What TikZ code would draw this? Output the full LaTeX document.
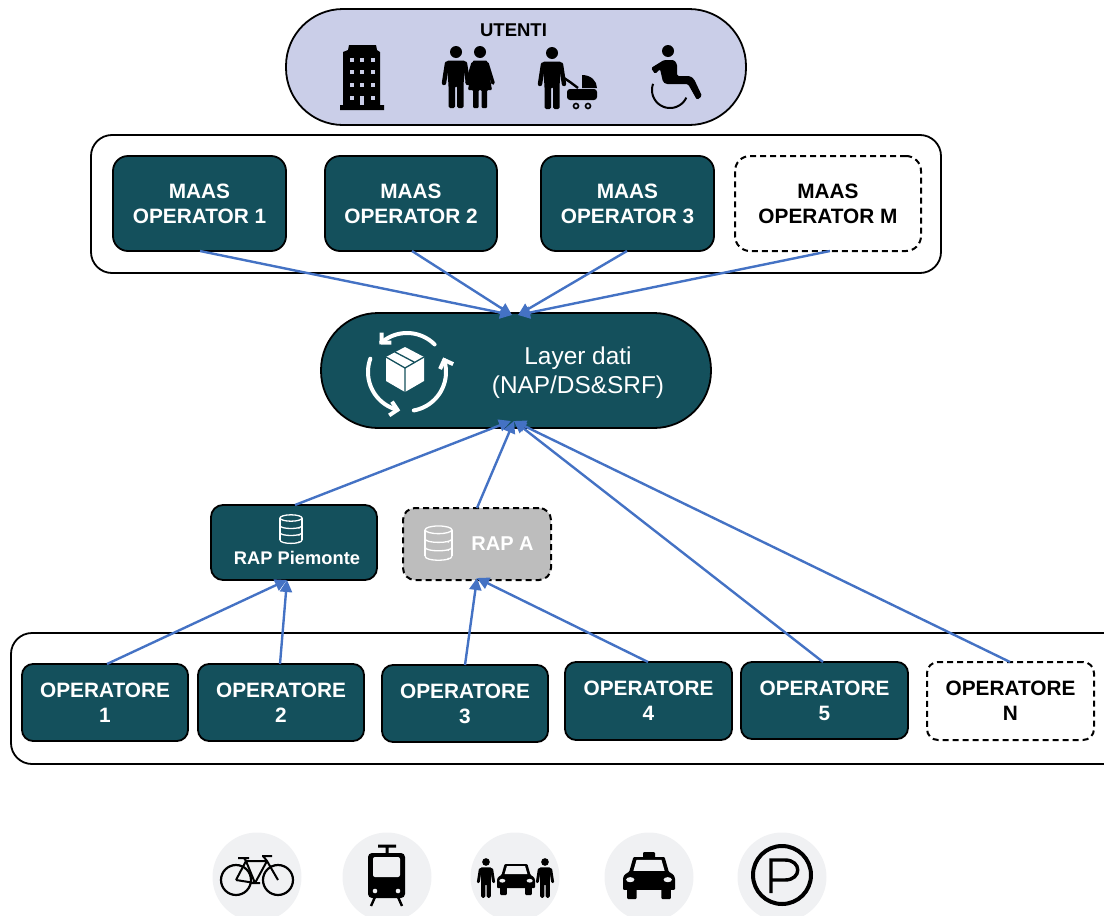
\documentclass[tikz,border=0pt]{standalone}
\usepackage{fontspec}
\setmainfont{Liberation Sans}
\usetikzlibrary{arrows.meta}
\definecolor{teal}{HTML}{14505C}
\definecolor{lav}{HTML}{CACEE8}
\definecolor{flow}{HTML}{4472C4}
\definecolor{disc}{HTML}{F0F1F3}
\definecolor{rapgrey}{HTML}{BDBDBD}
\tikzset{
  pic box/.style={draw=black,line width=1.8pt,inner sep=0pt,outer sep=0pt,align=center},
  tealbox/.style={pic box,fill=teal,text=white,rounded corners=15pt,font=\bfseries\fontsize{20.8}{25}\selectfont},
  dashbox/.style={pic box,fill=white,text=black,dashed,dash pattern=on 6pt off 4pt,line width=2pt,rounded corners=15pt,font=\bfseries\fontsize{20.8}{25}\selectfont},
  frame/.style={pic box,fill=white,rounded corners=21pt},
  flowline/.style={draw=flow,line width=2.4pt,-{Triangle[length=12pt,width=12pt]}},
  ink/.style={fill=black,draw=none},
  discbg/.style={fill=disc,draw=none},
}
\newcommand{\boxat}[7]{%
  \pgfmathsetmacro\bxw{#4-#2}\pgfmathsetmacro\bxh{#5-#3}%
  \pgfmathsetmacro\bxx{(#2+#4)/2}\pgfmathsetmacro\bxy{(#3+#5)/2}%
  \node[#6,minimum width=\bxw pt,minimum height=\bxh pt] (#1) at (\bxx,\bxy) {#7};}
\newcommand{\screenarc}[6]{\draw[#6,samples=40,domain=#4:#5,variable=\t] plot ({#1+#2*cos(\t)},{#3+#2*sin(\t)});}
% person: head at origin, feet at y=56
\newcommand{\manfig}[3]{\begin{scope}[shift={(#1,#2)},scale=#3]
  \fill[ink] (0,0) circle (6);
  \fill[ink,rounded corners=1.5pt] (-9.5,8.5)--(9.5,8.5)--(7.5,33)--(7.5,56)--(1,56)--(1,34)--(-1,34)--(-1,56)--(-7.5,56)--(-7.5,33)--cycle;
  \draw[line width=#3*4.4pt,line cap=round] (-9,11.5)--(-12,31) (9,11.5)--(12,31);
\end{scope}}
\newcommand{\womanfig}[3]{\begin{scope}[shift={(#1,#2)},scale=#3]
  \fill[ink] (0,0) circle (6);
  \fill[ink,rounded corners=1pt] (-7,8.5)--(7,8.5)--(12,38)--(7,38)--(7,56)--(1.5,56)--(1.5,38)--(-1.5,38)--(-1.5,56)--(-7,56)--(-7,38)--(-12,38)--cycle;
  \draw[line width=#3*3.6pt,line cap=round] (-7,11.5)--(-13,31) (7,11.5)--(13,31);
\end{scope}}
% car: x -50..50, y 0..100
\newcommand{\carfig}[4]{\begin{scope}[shift={(#1,#2)},xscale=#3,yscale=#4]
  \fill[ink,rounded corners=1pt] (-30,0)--(30,0)--(38,35)--(47,42)--(50,50)--(50,78)--(-50,78)--(-50,50)--(-47,42)--(-38,35)--cycle;
  \fill[ink,rounded corners=1pt] (-42,75) rectangle (-24,100) (24,75) rectangle (42,100);
  \fill[disc] (-24,7)--(24,7)--(30,33)--(-30,33)--cycle;
  \fill[disc] (-36,54) ellipse (8 and 6) (36,54) ellipse (8 and 6);
\end{scope}}
\newcommand{\dbfig}[5]{\begin{scope}[shift={(#1,#2)},xscale=#3,yscale=#4,draw=#5,line width=1.3pt]
  \draw (0,-11) ellipse (11 and 3.2);
  \draw (-11,-11)--(-11,11) (11,-11)--(11,11);
  \draw (-11,-3.5) .. controls (-11,0.5) and (11,0.5) .. (11,-3.5);
  \draw (-11,3.5) .. controls (-11,7.5) and (11,7.5) .. (11,3.5);
  \draw (-11,11) .. controls (-11,15.5) and (11,15.5) .. (11,11);
  \fill[#5] (8,-1) circle (.8) (8,6) circle (.8) (8,13) circle (.8);
\end{scope}}
\begin{document}
\begin{tikzpicture}[x=1pt,y=-1pt]
\useasboundingbox (0,0) rectangle (1104,916);
\clip (0,0) rectangle (1104,916);
% users
\boxat{users}{286}{9}{746}{125}{pic box,fill=lav,rounded corners=57pt}{}
\node[font=\bfseries\fontsize{18.5}{20}\selectfont,inner sep=0pt] (usertitle) at (513.5,30) {UTENTI};
% building
\fill[ink] (349,45)--(376,45)--(377,50)--(380,52)--(380,105)--(384,105)--(384,110)--(340,110)--(340,105)--(343,105)--(343,52)--(348,50)--cycle;
\foreach \wx in {352,362,373}\foreach \wy in {60,72,85,98}{\fill[lav] (\wx-2.2,\wy-2.2) rectangle (\wx+2.2,\wy+2.2);}
\fill[lav] (359.8,96) rectangle (364.2,105);
\manfig{456}{52}{1}
\womanfig{480}{52}{1}
% man with pram
\manfig{552}{53}{1}
\draw[line width=2.4pt] (564,78)--(570,82)--(578,88);
\fill[ink] (582,75) .. controls (591,75) and (597,81) .. (597,88)--(582,88)--cycle;
\fill[ink,rounded corners=3pt] (567,89) rectangle (597,100);
\draw[line width=1.6pt] (576,106) circle (2.5) (588,106) circle (2.5);
% wheelchair
\fill[ink] (668,51) circle (6);
\fill[ink,rounded corners=1.5pt] (664,60)--(674,60)--(677,64)--(677,76)--(690,76)--(694,79)--(702,96)--(697,100)--(688,84)--(666,84)--(663,82)--(660,69)--(655,74)--(651,68)--cycle;
\screenarc{670}{18}{90}{25}{200}{line width=2pt}
% maas frame
\boxat{maasframe}{91}{135}{941}{273}{frame}{}
\boxat{m1}{113}{156}{286}{251}{tealbox}{MAAS\\OPERATOR 1}
\boxat{m2}{325}{156}{497}{251}{tealbox}{MAAS\\OPERATOR 2}
\boxat{m3}{541}{156}{714}{251}{tealbox}{MAAS\\OPERATOR 3}
\boxat{mM}{735}{156}{921}{251}{dashbox}{MAAS\\OPERATOR M}
% layer
\boxat{layer}{321}{313}{711}{428}{pic box,fill=teal,rounded corners=57pt}{}
\node[text=white,align=center,inner sep=0pt,font=\fontsize{24.4}{29}\selectfont] (layertext) at (578,372.5) {Layer dati\\(NAP/DS\&SRF)};
\fill[white] (405,347)--(424,357)--(424,381)--(405,392)--(386,381)--(386,357)--cycle;
\draw[teal,line width=1.3pt] (386,357)--(405,368)--(424,357) (405,368)--(405,392) (395,352)--(414,362);
\screenarc{407}{39}{372}{315}{225}{white,line width=4pt,line cap=round,-{Straight Barb[length=7pt,width=14pt]}}
\screenarc{407}{39}{372}{80}{-22}{white,line width=4pt,line cap=round,-{Straight Barb[length=7pt,width=14pt]}}
\screenarc{407}{39}{372}{200}{100}{white,line width=4pt,line cap=round,-{Straight Barb[length=7pt,width=14pt]}}
% RAP
\boxat{rapp}{211}{505}{377}{580}{pic box,fill=teal,rounded corners=12pt}{}
\node[text=white,inner sep=0pt,font=\bfseries\fontsize{18.3}{20}\selectfont] (rapptext) at (297,558) {RAP Piemonte};
\dbfig{291}{529}{1}{1}{white}
\boxat{rapa}{403}{508}{551}{580}{pic box,fill=rapgrey,rounded corners=12pt,dashed,dash pattern=on 6pt off 4pt,line width=2pt}{}
\node[text=white,inner sep=0pt,font=\bfseries\fontsize{20}{22}\selectfont] (rapatext) at (502.5,544) {RAP A};
\dbfig{438.5}{543}{1.22}{1.2}{white}
% operators
\boxat{opframe}{11}{633}{1130}{764}{frame}{}
\boxat{o1}{22}{664}{188}{741}{tealbox,rounded corners=11pt}{OPERATORE\\1}
\boxat{o2}{198}{664}{364}{741}{tealbox,rounded corners=11pt}{OPERATORE\\2}
\boxat{o3}{382}{665}{548}{742}{tealbox,rounded corners=11pt}{OPERATORE\\3}
\boxat{o4}{565}{662}{732}{740}{tealbox,rounded corners=11pt}{OPERATORE\\4}
\boxat{o5}{741}{662}{908}{739}{tealbox,rounded corners=11pt}{OPERATORE\\5}
\boxat{oN}{927}{662}{1094}{740}{dashbox,rounded corners=11pt}{OPERATORE\\N}
% connector ends
\coordinate (layerTopL) at (512,315);
\coordinate (layerTopR) at (518,315);
\coordinate (layerBotA) at (511,421);
\coordinate (layerBotB) at (514,421);
\coordinate (rappIn) at (287,580);
\coordinate (rapaIn) at (477,578);
\coordinate (m1s) at (200,251);
\coordinate (m2s) at (412,251);
\coordinate (m3s) at (627,251);
\coordinate (mMs) at (830,251);
\coordinate (rappn) at (295,505);
\coordinate (o1n) at (107,664);
\coordinate (o2n) at (280,664);
\coordinate (o3n) at (465,665);
\coordinate (o4n) at (648,662);
\coordinate (o5n) at (823,662);
\coordinate (oNn) at (1010,662);
\draw[flowline] (m1s)--(layerTopL);
\draw[flowline] (m2s)--(layerTopL);
\draw[flowline] (m3s)--(layerTopR);
\draw[flowline] (mMs)--(layerTopR);
\draw[flowline] (rappn)--(layerBotA);
\draw[flowline] (rapa.north)--(layerBotB);
\draw[flowline] (o5n)--(layerBotB);
\draw[flowline] (oNn)--(layerBotB);
\draw[flowline] (o1n)--(rappIn);
\draw[flowline] (o2n)--(rappIn);
\draw[flowline] (o3n)--(rapaIn);
\draw[flowline] (o4n)--(rapaIn);
% service icons
\foreach \dx in {257,387,515,649,782}{\fill[discbg] (\dx,877) circle (44.5);}
% bike
\draw[line width=2.2pt] (236,880) circle (15) (278,880) circle (15);
\draw[line width=2pt,line join=round] (236,880)--(246,861)--(267,861)--(255,883)--(236,880) (246,861)--(255,883) (263,856)--(267,861)--(278,880) (238,858)--(249,858) (246,861)--(244,858) (262,856)--(272,856) (250,883)--(260,883);
% tram
\fill[ink] (378,844.5) rectangle (396,847.5) (385.5,846) rectangle (388.5,854);
\fill[ink,rounded corners=4pt] (368,853) rectangle (405,898);
\fill[disc,rounded corners=2pt] (373,857) rectangle (400,877);
\fill[disc] (375,891) circle (2.3) (398,891) circle (2.3);
\draw[line width=2.4pt] (375,897)--(371,906) (398,897)--(402,906);
% shared car
\manfig{486}{862}{.64}
\manfig{545}{862}{.64}
\carfig{516}{864}{.38}{.31}
% taxi
\carfig{649}{857}{.52}{.42}
\fill[ink,rounded corners=1pt] (643,852) rectangle (655,858.5);
% parking
\draw[line width=4pt] (782,875) circle (29);
\draw[line width=3.4pt,line join=miter] (771,893)--(771,860)--(785,860) .. controls (802,860) and (802,880) .. (785,880)--(771,880);
\end{tikzpicture}
\end{document}
